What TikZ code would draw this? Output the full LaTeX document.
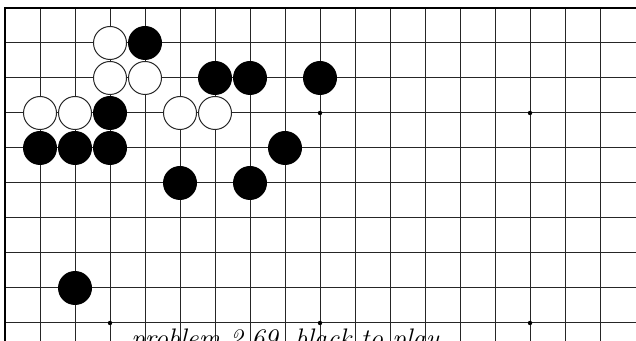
\documentclass[tikz,border=0pt]{standalone}
\usepackage{tikz}

\begin{document}
\begin{tikzpicture}[x=17.5pt,y=-17.5pt,
  gridline/.style={black!85,line width=0.5pt},
  boardedge/.style={black,line width=1pt},
  bstone/.style={circle,fill=black,inner sep=0pt,minimum size=17pt},
  wstone/.style={circle,draw=black!85,fill=white,line width=0.5pt,inner sep=0pt,minimum size=16.5pt}]
\clip (-0.1429,-0.2286) rectangle (18.0286,9.5143);
% board lines
\foreach \c in {1,...,17} \draw[gridline] (\c,0) -- (\c,9.6);
\foreach \r in {1,...,9} \draw[gridline] (0,\r) -- (18.1,\r);
\draw[boardedge] (0,9.6) -- (0,0) -- (18.1,0);
% star points
\foreach \c/\r in {3/3,9/3,15/3,3/9,9/9,15/9} \fill (\c,\r) circle (1.1pt);
% stones
\foreach \c/\r in {3/1,3/2,4/2,1/3,2/3,5/3,6/3}
  \node[wstone] (w-\c-\r) at (\c,\r) {};
\foreach \c/\r in {4/1,6/2,7/2,9/2,3/3,1/4,2/4,3/4,8/4,5/5,7/5,2/8}
  \node[bstone] (b-\c-\r) at (\c,\r) {};
\node[font=\fontsize{13.4}{16}\selectfont\itshape,anchor=base] (caption) at (8,9.70) {problem 2.69, black to play};
\end{tikzpicture}
\end{document}
